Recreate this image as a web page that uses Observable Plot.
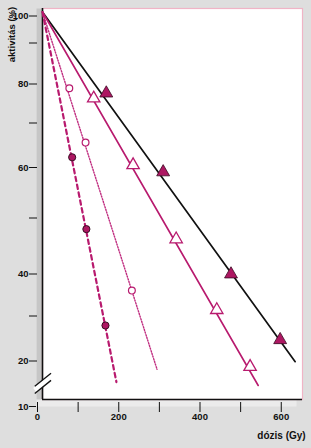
<!DOCTYPE html>
<html>
<head>
<meta charset="utf-8">
<script src="https://cdn.jsdelivr.net/npm/d3@7"></script>
<script src="https://cdn.jsdelivr.net/npm/@observablehq/plot@0.6"></script>
<style>
  html, body { margin: 0; padding: 0; background: #dedede; }
  #chart { width: 311px; height: 448px; }
</style>
</head>
<body>
<div id="chart"></div>
<script>
// --- data ---
const filledTriDose = [157, 297, 464, 585];
const filledTriAct  = [76.6, 58.3, 39.0, 23.8];
const openTriDose   = [126, 223, 329, 429, 511];
const openTriAct    = [75.3, 59.7, 45.5, 30.5, 17.7];
const openCircDose  = [66, 106, 220];
const openCircAct   = [77.9, 64.7, 35.1];
const filledCircDose = [73, 108, 155];
const filledCircAct  = [61.4, 47.3, 27.0];

// fitted lines: start (dose 0, 100 %) to end point
const lineNames  = ["black", "openTri", "openCirc", "filledCirc"];
const lineEndDose = [622, 531, 282, 182];
const lineEndAct  = [18.9, 13.3, 17.1, 14.1];

// axis ticks
const yTickValues = [20, 30, 40, 50, 60, 70, 80, 90, 100];
const yTickLabels = ["20", "", "40", "", "60", "", "80", "", "100"];
const xTickValues = [0, 100, 200, 300, 400, 500, 600];
const xTickLabels = ["0", "", "200", "", "400", "", "600"];
// the axis is drawn as in the source figure (uneven spacing between tick values)
const yScaleDomain = [10, 20, 30, 40, 50, 60, 70, 80, 90, 100];

const yLabel = "aktivitás (%)";
const xLabel = "dózis (Gy)";

const magenta = "#b81a6e";
const magentaFill = "#ad1762";

const pts = (xs, ys) => xs.map((x, i) => ({x, y: ys[i]}));
const lines = lineNames.flatMap((name, i) => [
  {name, x: 0, y: 100},
  {name, x: lineEndDose[i], y: lineEndAct[i]}
]);
const line = name => lines.filter(d => d.name === name);

const font = "'Liberation Sans', Arial, sans-serif";

const plot = Plot.plot({
  width: 311,
  height: 448,
  marginLeft: 42,
  marginRight: 9,
  marginTop: 8,
  marginBottom: 49,
  style: {background: "#dedede", fontFamily: font, fontSize: "9.5px", fontWeight: "bold", color: "#111"},
  x: {domain: [0, 640], axis: null},
  y: {type: "linear", domain: yScaleDomain,
      range: [399, 356.5, 311.5, 269.5, 213.5, 163, 118.5, 79.5, 38.5, 11.5], axis: null},
  marks: [
    // 3D box: floor and side
    Plot.frame({fill: "#ebebeb", dx: -6, dy: 7}),
    Plot.frame({fill: "#c6c6c6", dx: -6}),
    Plot.frame({fill: "white", stroke: "#f0b4c6", strokeWidth: 1.2}),
    // axes lines
    Plot.ruleX([0], {stroke: "#111", strokeWidth: 1.6}),
    Plot.ruleY([10], {stroke: "#111", strokeWidth: 1.4}),
    // axis break
    Plot.link([{x1: -19, x2: 21, y1: 12.25, y2: 15.35}], {x1: "x1", x2: "x2", y1: "y1", y2: "y2", stroke: "white", strokeWidth: 5}),
    Plot.link([{x1: -19, x2: 21, y1: 13.1, y2: 16.2}, {x1: -19, x2: 21, y1: 11.4, y2: 14.5}],
      {x1: "x1", x2: "x2", y1: "y1", y2: "y2", stroke: "#111", strokeWidth: 1.3}),
    // y ticks
    Plot.axisY(yTickValues, {anchor: "left", tickSize: 8, tickPadding: 1, dx: -5, dy: 4,
      tickFormat: (d, i) => yTickLabels[i], stroke: "#111", fontWeight: "bold", fill: "#111"}),
    Plot.axisY([10], {anchor: "left", tickSize: 7, tickPadding: 1, dx: -6, dy: 7,
      tickFormat: d => "10", stroke: "#111", fontWeight: "bold", fill: "#111"}),
    // x ticks
    Plot.axisX(xTickValues, {anchor: "bottom", tickSize: 10, tickPadding: 1, dx: -5, dy: 3,
      tickFormat: (d, i) => xTickLabels[i], stroke: "#111", fontWeight: "bold", fill: "#111"}),
    // lines
    Plot.line(line("black"), {x: "x", y: "y", stroke: "#111", strokeWidth: 1.7}),
    Plot.line(line("openTri"), {x: "x", y: "y", stroke: magenta, strokeWidth: 1.6}),
    Plot.line(line("openCirc"), {x: "x", y: "y", stroke: "#c02e80", strokeWidth: 1.4, strokeDasharray: "1.2,1.6"}),
    Plot.line(line("filledCirc"), {x: "x", y: "y", stroke: magenta, strokeWidth: 2.2, strokeDasharray: "4.5,3.5"}),
    // markers
    Plot.dot(pts(filledTriDose, filledTriAct), {x: "x", y: "y", symbol: "triangle", r: 4.8, fill: magentaFill, stroke: "#3a0a22", strokeWidth: 0.8}),
    Plot.dot(pts(openTriDose, openTriAct), {x: "x", y: "y", symbol: "triangle", r: 4.6, fill: "white", stroke: magenta, strokeWidth: 1.3}),
    Plot.dot(pts(openCircDose, openCircAct), {x: "x", y: "y", r: 3.4, fill: "white", stroke: magenta, strokeWidth: 1.2}),
    Plot.dot(pts(filledCircDose, filledCircAct), {x: "x", y: "y", r: 3.6, fill: magentaFill, stroke: "#2a0818", strokeWidth: 0.9}),
    // axis titles
    Plot.text([yLabel], {frameAnchor: "top-left", dx: -31, dy: 26, rotate: -90, textAnchor: "middle", lineAnchor: "middle", fontSize: 9.5, fontWeight: "bold", fill: "#111"}),
    Plot.text([xLabel], {frameAnchor: "bottom-right", dx: -21, dy: 36, textAnchor: "middle", lineAnchor: "middle", fontSize: 10, fontWeight: "bold", fill: "#111"})
  ]
});
document.getElementById("chart").appendChild(plot);
</script>
</body>
</html>
